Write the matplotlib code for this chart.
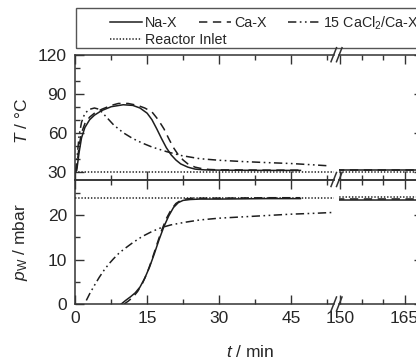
import matplotlib
matplotlib.use("Agg")
import matplotlib.pyplot as plt
from matplotlib.lines import Line2D
from matplotlib.patches import Rectangle
from matplotlib.ticker import MultipleLocator, FixedLocator

plt.rcParams["font.family"] = "Liberation Sans"
plt.rcParams["mathtext.fontset"] = "custom"
plt.rcParams["mathtext.rm"] = "Liberation Sans"
plt.rcParams["mathtext.it"] = "Liberation Sans:italic"
plt.rcParams["lines.scale_dashes"] = False

# ---- data ----
# temperature (top panel), early part 0..55 min
t_na = [0, 0.3, 0.8, 1.3, 2.0, 3.0, 4.0, 5.5, 7.5, 10, 12, 13.5, 15, 16, 17, 18, 19, 20, 21, 22, 23.5, 25, 27, 30, 35, 40, 47]
T_na = [30, 31, 45, 56, 64, 70, 73.5, 77, 80, 81.5, 81, 79, 75, 70, 63, 55.5, 48.5, 43, 39, 36, 33.5, 32, 31.4, 31.2, 31.1, 31.0, 31.0]

t_ca = [0, 0.3, 0.8, 1.3, 2, 3, 4, 5.5, 7.5, 9, 11, 13, 14.5, 16, 17.3, 18.5, 19.5, 20.5, 21.5, 22.5, 23.5, 25, 26.5, 28, 30, 35, 40, 47]
T_ca = [30, 33, 50, 60, 67, 72, 75, 78, 81, 82.5, 82.5, 81, 79, 76, 70, 63, 55.5, 48.5, 43, 39, 36, 33.5, 32.3, 31.7, 31.4, 31.3, 31.2, 31.2]

t_cc = [0, 0.3, 0.8, 1.3, 2, 3, 4, 5, 6, 8, 10, 12, 14, 16, 19, 22, 26, 30, 35, 40, 45, 50, 53]
T_cc = [30, 38, 58, 68, 75, 78, 79, 78, 74, 66, 60, 55.5, 52, 49, 45.5, 42.5, 40, 38.8, 37.8, 37, 36.3, 35.2, 34.5]

t_in = [0, 54]
T_in = [30, 30]

# water vapour pressure (lower panel), early part
t_na_p = [9.6, 10.5, 11.5, 12.5, 13.5, 14.5, 15.5, 16.5, 17.5, 18.5, 19.5, 20.5, 21.5, 22.5, 24, 26, 30, 40, 47]
p_na = [0, 0.8, 1.6, 2.5, 3.8, 5.8, 8.3, 11.3, 14.5, 17.4, 19.8, 21.7, 22.8, 23.3, 23.5, 23.6, 23.6, 23.7, 23.7]

t_ca_p = [10.2, 11, 12, 13, 14, 15, 16, 17, 18, 19, 20, 21, 22, 23, 24.5, 26, 30, 40, 47]
p_ca = [0, 0.6, 1.5, 2.8, 4.6, 7.0, 10.0, 13.3, 16.5, 19.2, 21.2, 22.6, 23.3, 23.6, 23.8, 23.8, 23.8, 23.9, 23.9]

t_cc_p = [2.3, 3, 4, 5, 6, 7, 8, 9, 10, 12, 14, 16, 18, 20, 23, 26, 30, 35, 40, 45, 50, 54]
p_cc = [0.8, 2.3, 4.2, 6.0, 7.6, 9.0, 10.2, 11.3, 12.2, 13.8, 15.2, 16.3, 17.2, 17.8, 18.4, 18.9, 19.3, 19.6, 19.9, 20.2, 20.4, 20.6]

p_in = [23.8, 23.8]

# late part, after the axis break
t_late = [149, 171]
T_na_late = [31.0, 31.0]
T_ca_late = [31.3, 31.3]
T_in_late = [30, 30]
p_na_late = [23.4, 23.4]
p_ca_late = [23.6, 23.6]
p_in_late = [24.0, 24.0]

labels = ["Na-X", "Ca-X", "15 CaCl$_2$/Ca-X", "Reactor Inlet"]

# ---- styles ----
ink = "#1e1e1e"
axc = "#333333"
styles = {
    "na": dict(color=ink, lw=1.1, ls="-"),
    "ca": dict(color=ink, lw=1.1, ls=(0, (6, 4))),
    "cc": dict(color=ink, lw=1.1, ls=(0, (6, 2.5, 1.2, 2.5, 1.2, 2.5))),
    "in": dict(color=ink, lw=1.1, ls=(0, (1.0, 1.3))),
}

W, H = 416, 362
fig = plt.figure(figsize=(W / 100, H / 100), dpi=100)


def box(x0, y0, x1, y1):
    # pixel box (top-left origin) -> figure fraction rect
    return [x0 / W, 1 - y1 / H, (x1 - x0) / W, (y1 - y0) / H]


xl0, xl1 = 75.3, 334.0
xr0, xr1 = 339.0, 423.0
yt0, ymid, yb1 = 54.7, 179.5, 304.0

ax_tl = fig.add_axes(box(xl0, yt0, xl1, ymid))
ax_tr = fig.add_axes(box(xr0, yt0, xr1, ymid))
ax_bl = fig.add_axes(box(xl0, ymid, xl1, yb1))
ax_br = fig.add_axes(box(xr0, ymid, xr1, yb1))

ax_tl.plot(t_na, T_na, **styles["na"])
ax_tl.plot(t_ca, T_ca, **styles["ca"])
ax_tl.plot(t_cc, T_cc, **styles["cc"])
ax_tl.plot(t_in, T_in, **styles["in"])
ax_tr.plot(t_late, T_na_late, **styles["na"])
ax_tr.plot(t_late, T_ca_late, **styles["ca"])
ax_tr.plot(t_late, T_in_late, **styles["in"])

ax_bl.plot(t_na_p, p_na, **styles["na"])
ax_bl.plot(t_ca_p, p_ca, **styles["ca"])
ax_bl.plot(t_cc_p, p_cc, **styles["cc"])
ax_bl.plot(t_in, p_in, **styles["in"])
ax_br.plot(t_late, p_na_late, **styles["na"])
ax_br.plot(t_late, p_ca_late, **styles["ca"])
ax_br.plot(t_late, p_in_late, **styles["in"])

left_xlim = (0, (xl1 - xl0) / 4.79)
right_xlim = (150 - (340 - xr0) / 4.3, 150 + (xr1 - 340) / 4.3)

for ax in (ax_tl, ax_bl):
    ax.set_xlim(*left_xlim)
    ax.xaxis.set_major_locator(MultipleLocator(15))
    ax.xaxis.set_minor_locator(MultipleLocator(7.5))
    ax.spines["right"].set_visible(False)
for ax in (ax_tr, ax_br):
    ax.set_xlim(*right_xlim)
    ax.xaxis.set_major_locator(FixedLocator([150, 165]))
    ax.xaxis.set_minor_locator(FixedLocator([155, 160]))
    ax.spines["left"].set_visible(False)

for ax in (ax_tl, ax_tr):
    ax.set_ylim(24, 120)
    ax.yaxis.set_major_locator(MultipleLocator(30))
    ax.yaxis.set_minor_locator(MultipleLocator(10))
for ax in (ax_bl, ax_br):
    ax.set_ylim(0, 28)
    ax.yaxis.set_major_locator(MultipleLocator(10))
    ax.yaxis.set_minor_locator(MultipleLocator(5))

for ax in (ax_tl, ax_tr, ax_bl, ax_br):
    ax.set_facecolor("none")
    for s in ax.spines.values():
        s.set_linewidth(1.1)
        s.set_color(axc)
    ax.tick_params(which="both", direction="in", top=True, bottom=True,
                   width=1.0, color=axc, labelsize=12.5, labelcolor="#262626")
    ax.tick_params(which="major", length=6.5)
    ax.tick_params(which="minor", length=3.4)
    ax.tick_params(axis="x", pad=5)
    ax.tick_params(axis="y", pad=6)

for ax in (ax_tl, ax_bl):
    ax.tick_params(axis="y", which="both", left=True, right=False)
for ax in (ax_tr, ax_br):
    ax.tick_params(axis="y", which="both", left=False, right=True, labelleft=False)
for ax in (ax_tl, ax_tr):
    ax.tick_params(axis="x", labelbottom=False)

ax_tl.set_ylabel("$T$ / °C", fontsize=12.5, color="#262626")
ax_bl.set_ylabel("$p_\\mathrm{W}$ / mbar", fontsize=12.5, color="#262626")
ax_tl.yaxis.set_label_coords(-0.175, 0.47)
ax_bl.yaxis.set_label_coords(-0.175, 0.5)
fig.text(250 / W, 1 - 352 / H, "$t$ / min", fontsize=12.5, color="#262626",
         ha="center", va="center")

# axis break marks
for yb in (yt0, ymid, yb1):
    for dx in (0.0, 5.5):
        fig.add_artist(Line2D([(331 + dx) / W, (336.5 + dx) / W],
                              [1 - (yb + 7) / H, 1 - (yb - 7) / H],
                              transform=fig.transFigure, color=axc, lw=1.1))

# legend: framed box running off the right edge
fig.add_artist(Rectangle((76 / W, 1 - 48.3 / H), 360 / W, 40 / H,
                         transform=fig.transFigure, fill=False,
                         edgecolor="#555555", lw=1.0))
h = [Line2D([], [], **styles[k]) for k in ("na", "ca", "cc", "in")]
leg1 = fig.legend(h[:3], labels[:3], loc="center left", ncol=3,
                  bbox_to_anchor=(110 / W, 1 - 23 / H), frameon=False,
                  fontsize=10.3, borderpad=0, borderaxespad=0,
                  handlelength=2.25, handletextpad=0.2, columnspacing=1.5,
                  labelcolor="#262626")
leg2 = fig.legend(h[3:], labels[3:], loc="center left",
                  bbox_to_anchor=(110 / W, 1 - 40 / H), frameon=False,
                  fontsize=10.3, borderpad=0, borderaxespad=0,
                  handlelength=2.25, handletextpad=0.2,
                  labelcolor="#262626")

fig.savefig("out.png", dpi=100)
